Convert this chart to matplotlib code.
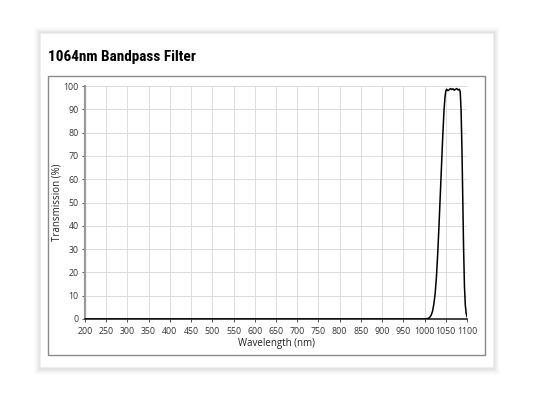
import matplotlib
matplotlib.use("Agg")
import matplotlib.pyplot as plt
from matplotlib.patches import Rectangle

title = "1064nm Bandpass Filter"
x_label = "Wavelength (nm)"
y_label = "Transmission (%)"
x_ticks = list(range(200, 1101, 50))
y_ticks = list(range(0, 101, 10))

wavelength = [200, 1000, 1005, 1010, 1013, 1016, 1019, 1022, 1025, 1028, 1031, 1034, 1037,
              1040, 1043, 1046, 1048, 1050, 1052, 1055, 1058, 1061, 1064, 1067, 1070,
              1073, 1076, 1079, 1082, 1084, 1086, 1088, 1090, 1092, 1094, 1096, 1098, 1100]
transmission = [0, 0, 0.1, 0.4, 0.9, 1.8, 3.5, 6.5, 11, 18, 28, 40, 53,
                66, 79, 90, 95, 97.8, 98.6, 98.0, 98.4, 98.9, 98.5, 98.8, 98.2,
                98.6, 98.9, 98.3, 98.6, 97.5, 90, 74, 52, 30, 14, 6, 2.5, 1.0]

fig = plt.figure(figsize=(5.33, 4.0), dpi=100)
fig.patch.set_facecolor("white")

W, H = 533, 400
# soft card shadow
for d, a in [(6, 0.010), (5, 0.012), (4, 0.015), (3, 0.018), (2, 0.022), (1, 0.026)]:
    fig.patches.append(Rectangle(((40 - d) / W, 1 - (368 + d + 1) / H), (454 + 2 * d) / W,
                                 (336 + 2 * d) / H, transform=fig.transFigure,
                                 facecolor="black", alpha=a, edgecolor="none", zorder=0))
fig.patches.append(Rectangle((40 / W, 1 - 367 / H), 453 / W, 334 / H, transform=fig.transFigure,
                             facecolor="white", edgecolor="#ececec", lw=0.5, zorder=1))
# inner frame
fig.patches.append(Rectangle((47.5 / W, 1 - 355 / H), 437 / W, 279 / H, transform=fig.transFigure,
                             facecolor="white", edgecolor="#8a8a8a", lw=1.0, zorder=2))

fig.text(48 / W, 1 - 57 / H, title, fontsize=11, fontweight="black",
         family=["Roboto Condensed", "Roboto"], color="black",
         va="center", ha="left", zorder=5)

ax = fig.add_axes([85 / W, 1 - 319 / H, (467 - 85) / W, (319 - 86) / H], zorder=6)
ax.set_facecolor("none")
ax.plot(wavelength, transmission, color="black", lw=1.1, zorder=5)
ax.set_xlim(200, 1100)
ax.set_ylim(0, 100)
ax.set_xticks(x_ticks)
ax.set_yticks(y_ticks)
ax.grid(True, color="#dcdcdc", lw=0.7)
ax.set_axisbelow(True)
for s in ["top", "right"]:
    ax.spines[s].set_visible(False)
ax.spines["left"].set_color("#9a9a9a")
ax.spines["left"].set_linewidth(1.6)
ax.spines["bottom"].set_color("#222222")
ax.spines["bottom"].set_linewidth(1.2)
ax.tick_params(axis="both", labelsize=6.3, colors="#333333", length=2.5, width=0.6, pad=2)
ax.tick_params(axis="x", pad=3)
for lab in ax.get_xticklabels() + ax.get_yticklabels():
    lab.set_family("Open Sans")
ax.set_xlabel(x_label, fontsize=7, family="Open Sans", color="#222222", labelpad=2)
ax.set_ylabel(y_label, fontsize=7, family="Open Sans", color="#222222", labelpad=1)

fig.savefig("out.png", dpi=100)
